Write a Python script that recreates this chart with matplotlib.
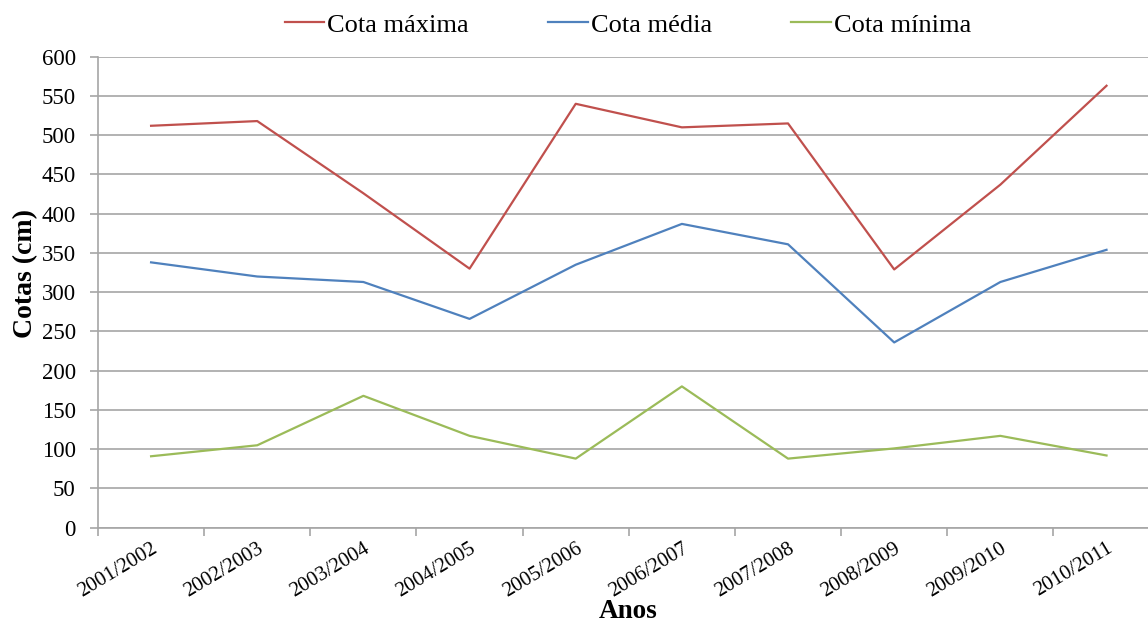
import matplotlib
matplotlib.use("Agg")
import matplotlib.pyplot as plt

anos = ["2001/2002", "2002/2003", "2003/2004", "2004/2005", "2005/2006",
        "2006/2007", "2007/2008", "2008/2009", "2009/2010", "2010/2011"]
cota_maxima = [512, 518, 426, 330, 540, 510, 515, 329, 437, 563]
cota_media = [338, 320, 313, 266, 335, 387, 361, 236, 313, 354]
cota_minima = [91, 105, 168, 117, 88, 180, 88, 101, 117, 92]

plt.rcParams['font.family'] = ['Liberation Serif', 'DejaVu Serif']

fig = plt.figure(figsize=(11.48, 6.23), dpi=100)
ax = fig.add_axes([98/1148, 1-527.7/623, (1159.6-98)/1148, (527.7-56.7)/623])

x = list(range(len(anos)))
ax.plot(x, cota_maxima, color='#C0504D', lw=1.6, label='Cota máxima')
ax.plot(x, cota_media, color='#4F81BD', lw=1.6, label='Cota média')
ax.plot(x, cota_minima, color='#9BBB59', lw=1.6, label='Cota mínima')

ax.set_xlim(-0.5, len(anos) - 0.5)
ax.set_ylim(0, 600)
ax.set_yticks(range(0, 601, 50))
ax.yaxis.grid(True, color='#A6A6A6', lw=1.2)
ax.set_axisbelow(True)

ax.set_xticks([i - 0.5 for i in range(len(anos) + 1)])
ax.set_xticklabels([])
ax.set_xticks(x, minor=True)
ax.set_xticklabels(anos, minor=True, rotation=31, ha='right', rotation_mode='anchor', fontsize=15)
ax.tick_params(axis='x', which='minor', length=0, pad=8)
ax.tick_params(axis='x', which='major', length=6, color='#A6A6A6', width=1.2)
ax.tick_params(axis='y', length=6, color='#A6A6A6', width=1.2, labelsize=16.5, pad=10)

for s in ['top', 'right']:
    ax.spines[s].set_visible(False)
for s in ['left', 'bottom']:
    ax.spines[s].set_color('#A6A6A6')
    ax.spines[s].set_linewidth(1.2)

fig.text(26/1148, 1-273/623, 'Cotas (cm)', fontsize=20, fontweight='bold',
         rotation=90, ha='center', va='center')
fig.text(628/1148, 1-618/623, 'Anos', fontsize=19.5, fontweight='bold', ha='center', va='baseline')

fig.legend(loc='center', bbox_to_anchor=(628/1148, 1-25/623), ncol=3, frameon=False,
           fontsize=19, handlelength=1.5, handletextpad=0.12, columnspacing=3.0)

fig.savefig('out.png', dpi=100)
